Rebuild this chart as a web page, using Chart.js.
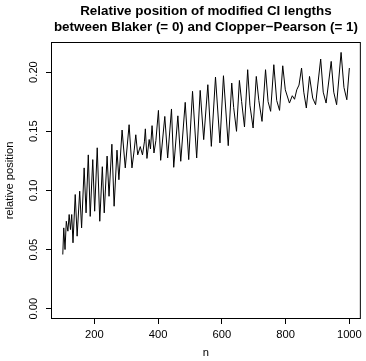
<!DOCTYPE html>
<html>
<head>
<meta charset="utf-8">
<script src="https://cdn.jsdelivr.net/npm/chart.js@4"></script>
<style>
  html, body { margin: 0; padding: 0; background: #fff; }
  #wrap { width: 366px; height: 361px; }
</style>
</head>
<body>
<div id="wrap"><canvas id="relChart" width="366" height="361"></canvas></div>
<script>
// values (peaks and troughs of the curve)
const nValues = [101, 104, 108, 112, 117, 121, 125, 129, 133, 140, 146, 154, 160, 168, 174, 181, 187, 195, 201, 209,
  217, 225, 231, 240, 246, 255, 262, 271, 277, 287, 297, 309, 318, 325, 330, 336, 344, 351, 357, 360,
  365, 372, 376, 381, 387, 393, 401, 408, 421, 430, 442, 449, 462, 471, 485, 496, 508, 521, 532, 543,
  556, 567, 580, 594, 605, 620, 631, 637, 646, 655, 662, 671, 681, 688, 698, 708, 716, 726, 737, 745,
  753, 763, 772, 781, 791, 799, 812, 821, 828, 835, 842, 850, 857, 865, 875, 885, 894, 910, 918, 927,
  943, 951, 960, 974, 983, 992, 1000];
const relPosition = [0.0458, 0.0683, 0.0500, 0.0739, 0.0655, 0.0796, 0.0669, 0.0796, 0.0557, 0.0965, 0.0613, 0.0993, 0.0683, 0.119, 0.081, 0.130, 0.078, 0.126, 0.0824, 0.136,
  0.0739, 0.120, 0.081, 0.129, 0.095, 0.139, 0.0866, 0.134, 0.109, 0.151, 0.119, 0.1555, 0.119, 0.134, 0.147, 0.130, 0.137, 0.130, 0.141, 0.152,
  0.127, 0.143, 0.135, 0.1547, 0.1316, 0.142, 0.1676, 0.1254, 0.1625, 0.1274, 0.1688, 0.1195, 0.163, 0.1246, 0.1744, 0.126, 0.1837, 0.1274, 0.1845, 0.1429,
  0.1893, 0.1372, 0.1958, 0.1401, 0.1969, 0.1378, 0.1907, 0.170, 0.1499, 0.1929, 0.175, 0.1536, 0.202, 0.172, 0.1527, 0.1963, 0.176, 0.1583, 0.202, 0.175,
  0.1668, 0.2062, 0.176, 0.1676, 0.2053, 0.185, 0.1738, 0.180, 0.177, 0.185, 0.189, 0.2034, 0.183, 0.1696, 0.1963, 0.178, 0.1724, 0.211, 0.183, 0.1738,
  0.209, 0.183, 0.1724, 0.2166, 0.187, 0.1766, 0.2034];
const xTicks = [200, 400, 600, 800, 1000];
const yTicks = [0.00, 0.05, 0.10, 0.15, 0.20];
const titleLines = ["Relative position of modified CI lengths", "between Blaker (= 0) and Clopper\u2212Pearson (= 1)"];
const xLabel = "n";
const yLabel = "relative position";

const FONT = "'Liberation Sans', Arial, Helvetica, sans-serif";

// R-style frame, title, rotated y labels
const rDecor = {
  id: "rDecor",
  afterDraw(chart) {
    const { ctx, chartArea: a } = chart;
    const ys = chart.scales.y;
    ctx.save();
    ctx.strokeStyle = "#000";
    ctx.lineWidth = 1;
    ctx.strokeRect(a.left + 0.5, a.top + 0.5, a.right - a.left - 1, a.bottom - a.top - 1);

    ctx.fillStyle = "#000";
    ctx.textAlign = "center";
    ctx.textBaseline = "alphabetic";
    const cx = (a.left + a.right) / 2;
    ctx.font = "bold 13.4px " + FONT;
    ctx.fillText(titleLines[0], cx, 15);
    ctx.fillText(titleLines[1], cx, 31);

    ctx.font = "11.2px " + FONT;
    ctx.fillText(xLabel, cx, 356);

    ctx.textBaseline = "middle";
    yTicks.forEach(v => {
      ctx.save();
      ctx.translate(34, ys.getPixelForValue(v));
      ctx.rotate(-Math.PI / 2);
      ctx.fillText(v.toFixed(2), 0, 0);
      ctx.restore();
    });
    ctx.save();
    ctx.translate(10, (a.top + a.bottom) / 2);
    ctx.rotate(-Math.PI / 2);
    ctx.fillText(yLabel, 0, 0);
    ctx.restore();
    ctx.restore();
  }
};

new Chart(document.getElementById("relChart"), {
  type: "scatter",
  data: {
    datasets: [{
      data: nValues.map((n, i) => ({ x: n, y: relPosition[i] })),
      showLine: true,
      borderColor: "#000",
      borderWidth: 1,
      pointRadius: 0,
      tension: 0,
      fill: false
    }]
  },
  options: {
    responsive: false,
    animation: false,
    devicePixelRatio: 1,
    layout: { padding: { left: 0, right: 5, top: 42, bottom: 0 } },
    plugins: { legend: { display: false }, tooltip: { enabled: false } },
    scales: {
      x: {
        type: "linear",
        min: 64,
        max: 1036,
        afterBuildTicks: s => { s.ticks = xTicks.map(v => ({ value: v })); },
        afterFit: s => { s.height = 42; },
        grid: { drawOnChartArea: false, tickLength: 5, color: "#000" },
        border: { display: false },
        ticks: { color: "#000", font: { family: FONT, size: 11.2 }, padding: 4, maxRotation: 0, autoSkip: false,
          callback: v => String(v) }
      },
      y: {
        type: "linear",
        min: -0.0087,
        max: 0.2254,
        afterBuildTicks: s => { s.ticks = yTicks.map(v => ({ value: v })); },
        afterFit: s => { s.width = 51; },
        grid: { drawOnChartArea: false, tickLength: 5, color: "#000" },
        border: { display: false },
        ticks: { display: false }
      }
    }
  },
  plugins: [rDecor]
});
</script>
</body>
</html>
